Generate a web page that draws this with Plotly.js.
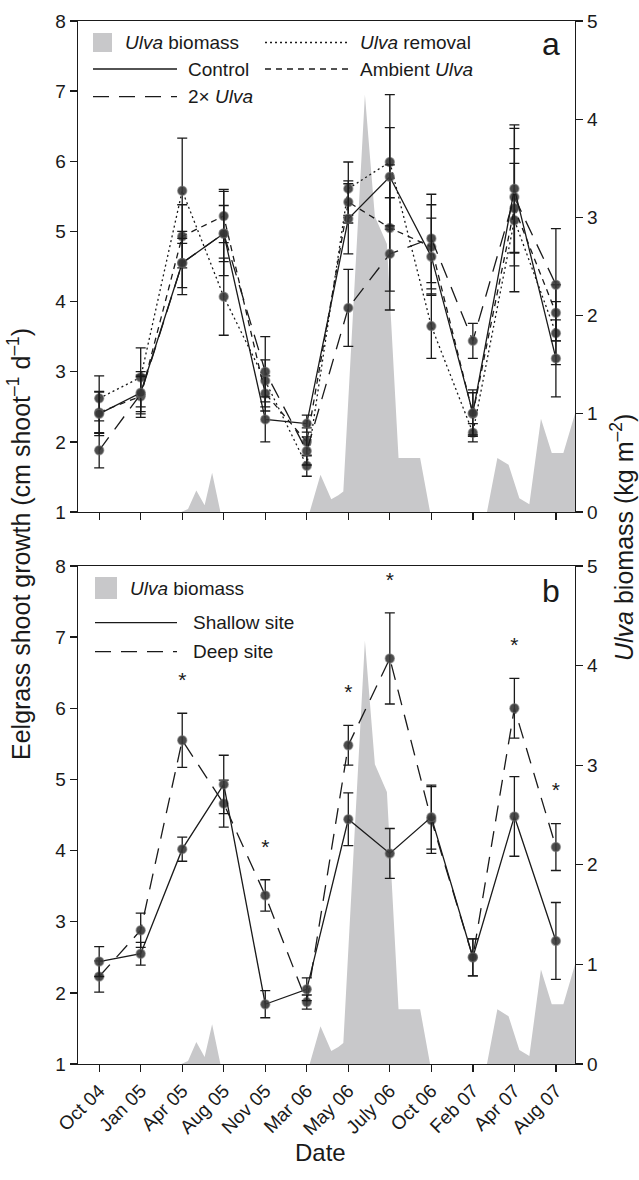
<!DOCTYPE html>
<html><head><meta charset="utf-8">
<script src="https://cdn.plot.ly/plotly-3.0.1.min.js"></script>
<style>body{margin:0;background:#fff}#chart{width:639px;height:1180px}</style>
</head><body><div id="chart"></div>
<script>
// Sampling dates (tick labels)
const dates = ['Oct 04','Jan 05','Apr 05','Aug 05','Nov 05','Mar 06','May 06','July 06','Oct 06','Feb 07','Apr 07','Aug 07'];

// Panel a: eelgrass shoot growth (cm shoot-1 d-1) by treatment, with SE
const controlGrowth = [2.40,2.70,4.55,4.97,2.32,2.26,5.18,5.78,4.64,2.41,5.61,3.19];
const controlErr    = [0.31,0.30,0.45,0.60,0.32,0.12,0.50,0.70,0.55,0.33,0.91,0.55];
const removalGrowth = [2.62,2.92,5.58,4.07,2.87,1.66,5.61,5.99,3.65,2.13,5.16,3.55];
const removalErr    = [0.32,0.42,0.75,0.55,0.30,0.15,0.38,0.96,0.46,0.13,1.02,0.45];
const ambientGrowth = [2.42,2.65,4.93,5.22,2.69,2.00,5.42,5.05,4.78,2.40,5.33,3.84];
const ambientErr    = [0.30,0.30,0.45,0.38,0.25,0.20,0.30,0.90,0.60,0.30,0.64,0.40];
const doubleGrowth  = [1.88,2.68,4.55,4.97,3.00,1.87,3.91,4.68,4.90,3.44,5.49,4.24];
const doubleErr     = [0.25,0.25,0.35,0.40,0.50,0.20,0.55,0.80,0.63,0.25,0.98,0.80];

// Panel b: shallow vs deep site growth, with SE
const shallowGrowth = [2.44,2.55,4.02,4.93,1.84,2.05,4.44,3.96,4.47,2.50,4.48,2.73];
const shallowErr    = [0.21,0.16,0.17,0.41,0.19,0.16,0.37,0.35,0.45,0.26,0.56,0.54];
const deepGrowth    = [2.23,2.88,5.55,4.66,3.37,1.87,5.48,6.70,4.43,2.50,6.00,4.05];
const deepErr       = [0.22,0.24,0.38,0.33,0.22,0.10,0.28,0.64,0.47,0.26,0.42,0.33];
const significant   = [false,false,true,false,true,false,true,true,false,false,true,true];

// Ulva biomass (kg m-2) over time, time in sampling-interval units
const ulvaTime    = [0,1.98,2.14,2.34,2.54,2.72,2.92,5.07,5.33,5.59,5.76,5.88,6.40,6.64,6.93,7.21,7.73,7.97,9.34,9.59,9.86,10.12,10.36,10.64,10.90,11.18,11.46];
const ulvaBiomass = [0,0,0.03,0.22,0.07,0.40,0,0,0.38,0.13,0.17,0.21,4.25,3.01,2.73,0.55,0.55,0,0,0.55,0.48,0.14,0.08,0.95,0.60,0.60,1.00];

const idx = dates.map((d,i)=>i);
const INK = '#1a1a1a';
const GREY = '#c8c8ca';
const FONT = 'Liberation Sans, Arial, Helvetica, sans-serif';

function growthTrace(y, err, dash, xa, ya, name){
  return {
    x: idx, y: y, name: name, xaxis: xa, yaxis: ya, type: 'scatter', mode: 'lines+markers',
    line: {color: INK, width: 1.3, dash: dash},
    marker: {size: 9, color: 'rgba(55,55,55,0.9)', line: {color: 'rgba(110,110,110,0.55)', width: 1.5}},
    error_y: {type: 'data', array: err, visible: true, color: INK, thickness: 1.3, width: 5},
    showlegend: false, cliponaxis: false
  };
}
function ulvaTrace(xa, ya){
  return {x: ulvaTime, y: ulvaBiomass, xaxis: xa, yaxis: ya, type: 'scatter', mode: 'lines',
    fill: 'tozeroy', fillcolor: GREY, line: {color: GREY, width: 0}, showlegend: false, hoverinfo: 'skip'};
}

const DOT = '2px,3px', SHORT = '6px,5px', LONG = '16px,10px';

const starX = idx.filter(i => significant[i]);
const starY = starX.map(i => deepGrowth[i] + deepErr[i] + 0.44);

const traces = [
  ulvaTrace('x','y'),
  growthTrace(removalGrowth, removalErr, DOT, 'x', 'y2', 'Ulva removal'),
  growthTrace(ambientGrowth, ambientErr, SHORT, 'x', 'y2', 'Ambient Ulva'),
  growthTrace(doubleGrowth, doubleErr, LONG, 'x', 'y2', '2× Ulva'),
  growthTrace(controlGrowth, controlErr, 'solid', 'x', 'y2', 'Control'),
  ulvaTrace('x2','y3'),
  growthTrace(deepGrowth, deepErr, LONG, 'x2', 'y4', 'Deep site'),
  growthTrace(shallowGrowth, shallowErr, 'solid', 'x2', 'y4', 'Shallow site'),
  {x: starX, y: starY, xaxis: 'x2', yaxis: 'y4', type: 'scatter', mode: 'text', text: starX.map(()=>'*'),
   textfont: {size: 21, color: INK, family: FONT}, showlegend: false, hoverinfo: 'skip', cliponaxis: false}
];

// layout geometry
const L = 78, R = 64, T = 21, B = 116, W = 639, H = 1180;
const pw = W - L - R, ph = H - T - B;
const px = v => (v - L) / pw;               // pixel x -> paper
const py = v => (H - B - v) / ph;           // pixel y -> paper
const domA = [py(512), 1], domB = [0, py(566)];

const xCommon = {range: [-0.51, 11.46], tickvals: idx, ticktext: dates, ticks: 'outside', ticklen: 7,
  tickwidth: 1.3, tickcolor: INK, showline: true, linewidth: 1.3, linecolor: INK, mirror: true,
  showgrid: false, zeroline: false, tickfont: {size: 19, color: INK, family: FONT}};
const yBio = {range: [0, 5], dtick: 1, side: 'right', ticks: 'outside', ticklen: 7, tickwidth: 1.3, tickcolor: INK,
  showline: true, linewidth: 1.3, linecolor: INK, showgrid: false, zeroline: false,
  tickfont: {size: 19, color: INK, family: FONT}};
const yGrowth = {range: [1, 8], dtick: 1, side: 'left', ticks: 'outside', ticklen: 7, tickwidth: 1.3, tickcolor: INK,
  showline: true, linewidth: 1.3, linecolor: INK, showgrid: false, zeroline: false,
  tickfont: {size: 19, color: INK, family: FONT}};

// Manual legends
const legendA = [
  {label: '<i>Ulva</i> biomass', kind: 'box', col: 0, row: 0},
  {label: '<i>Ulva</i> removal', kind: DOT, col: 1, row: 0},
  {label: 'Control', kind: 'solid', col: 0, row: 1},
  {label: 'Ambient <i>Ulva</i>', kind: SHORT, col: 1, row: 1},
  {label: '2× <i>Ulva</i>', kind: LONG, col: 0, row: 2}
];
const legendB = [
  {label: '<i>Ulva</i> biomass', kind: 'box', col: 0, row: 0},
  {label: 'Shallow site', kind: 'solid', col: 0, row: 1},
  {label: 'Deep site', kind: LONG, col: 0, row: 2}
];
const shapes = [], annotations = [];
function buildLegend(items, opt){
  items.forEach(it => {
    const yc = opt.rows[it.row];
    const x0 = opt.colX[it.col];
    if (it.kind === 'box'){
      shapes.push({type: 'rect', xref: 'paper', yref: 'paper', x0: px(x0), x1: px(x0 + opt.box),
        y0: py(yc - opt.box/2), y1: py(yc + opt.box/2), fillcolor: GREY, line: {width: 0}});
      annotations.push({xref: 'paper', yref: 'paper', x: px(x0 + opt.boxText), y: py(yc), xanchor: 'left', yanchor: 'middle',
        text: it.label, showarrow: false, font: {size: 19, color: INK, family: FONT}});
    } else {
      shapes.push({type: 'line', xref: 'paper', yref: 'paper', x0: px(x0), x1: px(x0 + opt.lineLen),
        y0: py(yc), y1: py(yc), line: {color: INK, width: 1.3, dash: it.kind}});
      annotations.push({xref: 'paper', yref: 'paper', x: px(x0 + opt.lineLen + opt.gap), y: py(yc), xanchor: 'left', yanchor: 'middle',
        text: it.label, showarrow: false, font: {size: 19, color: INK, family: FONT}});
    }
  });
}
buildLegend(legendA, {rows: [42.5, 69, 96.7], colX: [93, 265], box: 19, boxText: 30, lineLen: 84, gap: 9});
buildLegend(legendB, {rows: [588, 622.7, 651.7], colX: [95, 95], box: 22, boxText: 33, lineLen: 82, gap: 14});

annotations.push(
  {xref: 'paper', yref: 'paper', x: px(551), y: py(44), text: 'a', showarrow: false, xanchor: 'center', yanchor: 'middle',
   font: {size: 32, color: INK, family: FONT}},
  {xref: 'paper', yref: 'paper', x: px(551), y: py(591), text: 'b', showarrow: false, xanchor: 'center', yanchor: 'middle',
   font: {size: 32, color: INK, family: FONT}},
  {xref: 'paper', yref: 'paper', x: px(19), y: py(544), text: 'Eelgrass shoot growth (cm shoot<sup>–1</sup> d<sup>–1</sup>)',
   textangle: -90, showarrow: false, xanchor: 'center', yanchor: 'middle', font: {size: 25, color: INK, family: FONT}},
  {xref: 'paper', yref: 'paper', x: px(622), y: py(538), text: '<i>Ulva</i> biomass (kg m<sup>–2</sup>)',
   textangle: -90, showarrow: false, xanchor: 'center', yanchor: 'middle', font: {size: 25, color: INK, family: FONT}},
  {xref: 'paper', yref: 'paper', x: px(320), y: py(1152), text: 'Date', showarrow: false, xanchor: 'center', yanchor: 'middle',
   font: {size: 24, color: INK, family: FONT}}
);

const layout = {
  width: W, height: H, margin: {l: L, r: R, t: T, b: B}, paper_bgcolor: '#fff', plot_bgcolor: 'rgba(0,0,0,0)',
  font: {family: FONT, color: INK}, showlegend: false,
  xaxis: Object.assign({}, xCommon, {anchor: 'y', showticklabels: false}),
  xaxis2: Object.assign({}, xCommon, {anchor: 'y3', tickangle: -45}),
  yaxis: Object.assign({}, yBio, {domain: domA, anchor: 'x'}),
  yaxis2: Object.assign({}, yGrowth, {overlaying: 'y', anchor: 'x'}),
  yaxis3: Object.assign({}, yBio, {domain: domB, anchor: 'x2'}),
  yaxis4: Object.assign({}, yGrowth, {overlaying: 'y3', anchor: 'x2'}),
  shapes: shapes, annotations: annotations
};
Plotly.newPlot('chart', traces, layout, {staticPlot: true, displayModeBar: false});
</script></body></html>
